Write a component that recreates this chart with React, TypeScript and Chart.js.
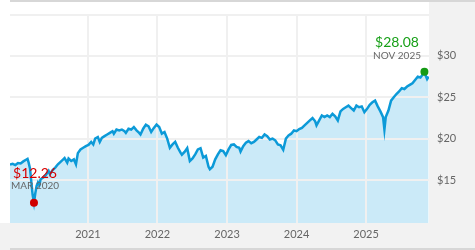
import React, { useEffect, useRef } from "react";
import { Chart, registerables } from "chart.js";

Chart.register(...registerables);

// ---- data ----
const dates: string[] = [
  "2019-11-18","2019-12-02","2019-12-16","2019-12-30","2020-01-13","2020-01-27","2020-02-10","2020-02-18",
  "2020-02-24","2020-03-02","2020-03-09","2020-03-16","2020-03-23","2020-03-30","2020-04-06","2020-04-13",
  "2020-04-20","2020-04-27","2020-05-11","2020-05-25","2020-06-08","2020-06-15","2020-06-29","2020-07-13",
  "2020-07-27","2020-08-10","2020-08-24","2020-08-31","2020-09-14","2020-09-21","2020-10-05","2020-10-19",
  "2020-10-30","2020-11-09","2020-11-23","2020-12-07","2020-12-21","2021-01-04","2021-01-18","2021-01-29",
  "2021-02-08","2021-02-22","2021-03-04","2021-03-15","2021-03-29","2021-04-12","2021-04-26","2021-05-10",
  "2021-05-17","2021-05-31","2021-06-14","2021-06-28","2021-07-12","2021-07-19","2021-08-02","2021-08-16",
  "2021-08-30","2021-09-13","2021-09-27","2021-10-04","2021-10-18","2021-11-01","2021-11-15","2021-11-29",
  "2021-12-13","2021-12-27","2022-01-10","2022-01-24","2022-02-07","2022-02-21","2022-03-07","2022-03-21",
  "2022-04-04","2022-04-18","2022-05-02","2022-05-09","2022-05-23","2022-06-06","2022-06-20","2022-07-04",
  "2022-07-18","2022-08-01","2022-08-15","2022-08-29","2022-09-12","2022-09-26","2022-10-03","2022-10-17",
  "2022-10-31","2022-11-14","2022-11-28","2022-12-12","2022-12-26","2023-01-09","2023-01-23","2023-02-06",
  "2023-02-20","2023-03-06","2023-03-13","2023-03-27","2023-04-10","2023-04-24","2023-05-08","2023-05-22",
  "2023-06-05","2023-06-19","2023-07-03","2023-07-17","2023-07-31","2023-08-14","2023-08-28","2023-09-11",
  "2023-09-25","2023-10-09","2023-10-23","2023-11-06","2023-11-20","2023-12-04","2023-12-18","2024-01-01",
  "2024-01-15","2024-01-29","2024-02-12","2024-02-26","2024-03-11","2024-03-25","2024-04-08","2024-04-15",
  "2024-04-29","2024-05-13","2024-05-27","2024-06-10","2024-06-24","2024-07-08","2024-07-22","2024-08-05",
  "2024-08-19","2024-09-02","2024-09-16","2024-09-30","2024-10-14","2024-10-28","2024-11-11","2024-11-25",
  "2024-12-09","2024-12-23","2025-01-06","2025-01-20","2025-02-03","2025-02-17","2025-03-03","2025-03-17",
  "2025-03-31","2025-04-07","2025-04-14","2025-04-28","2025-05-12","2025-05-26","2025-06-09","2025-06-23",
  "2025-07-07","2025-07-21","2025-08-04","2025-08-18","2025-09-01","2025-09-15","2025-09-29","2025-10-13",
  "2025-10-27","2025-11-03","2025-11-10","2025-11-17","2025-11-25",
];

const values: number[] = [
  16.87,16.95,16.8,17.05,17.0,17.25,17.45,17.55,
  17.1,16.4,14.8,13.2,12.26,13.4,14.3,14.7,
  14.4,15.1,15.3,15.6,16.1,15.7,16.2,16.5,
  16.9,17.2,17.5,17.65,17.1,17.6,17.3,17.5,
  16.9,18.25,18.7,18.9,19.1,19.25,19.6,19.3,
  20.0,20.2,19.6,20.1,20.3,20.5,20.7,20.9,
  20.6,21.1,21.0,21.1,20.9,20.7,21.2,21.1,
  21.4,21.0,20.7,20.5,21.2,21.7,21.5,20.8,
  21.3,21.7,21.4,20.6,20.8,20.0,18.9,19.3,
  19.6,18.9,18.3,18.06,18.4,18.85,17.3,17.6,
  18.1,18.7,18.85,17.7,17.9,16.6,16.3,16.6,
  17.5,18.1,18.6,18.5,18.0,18.7,19.25,19.3,
  19.0,18.9,18.45,19.1,19.5,19.7,19.45,19.6,
  19.9,20.2,20.1,20.5,20.3,19.9,20.0,19.8,
  19.3,19.2,18.65,20.0,20.4,20.6,21.0,20.9,
  21.15,21.3,21.6,21.9,22.2,22.5,22.1,21.6,
  22.2,22.8,22.6,22.8,22.6,23.0,22.7,22.2,
  23.3,23.6,23.8,24.0,23.7,23.4,24.0,23.8,
  23.9,23.2,23.6,24.1,24.4,24.6,23.9,23.3,
  22.6,21.1,22.6,23.4,24.6,25.0,25.4,25.7,
  26.1,26.0,26.3,26.5,26.7,27.1,27.5,27.4,
  27.8,28.08,27.6,27.2,27.5,
];

const yTickValues: number[] = [15, 20, 25, 30, 35];
const xTickValues: number[] = [2021, 2022, 2023, 2024, 2025];
const monthNames: string[] = ["JAN","FEB","MAR","APR","MAY","JUN","JUL","AUG","SEP","OCT","NOV","DEC"];

function toYear(s: string): number {
  const [y, m, d] = s.split("-").map(Number);
  const start = Date.UTC(y, 0, 1);
  const end = Date.UTC(y + 1, 0, 1);
  return y + (Date.UTC(y, m - 1, d) - start) / (end - start);
}

function dateLabel(s: string): string {
  const [y, m] = s.split("-").map(Number);
  return monthNames[m - 1] + " " + y;
}

const FONT = "Lato, 'Open Sans', sans-serif";

export default function App() {
  const ref = useRef<HTMLCanvasElement | null>(null);

  useEffect(() => {
    document.body.style.margin = "0";
    const canvas = ref.current;
    if (!canvas) return;

    const pts = dates.map((d, i) => ({ x: toYear(d), y: values[i] }));

    let minI = 0, maxI = 0;
    values.forEach((v, i) => {
      if (v < values[minI]) minI = i;
      if (v > values[maxI]) maxI = i;
    });

    const bgPlugin = {
      id: "bg",
      beforeDraw(chart: any) {
        const { ctx, width, height, chartArea } = chart;
        ctx.save();
        ctx.fillStyle = "#ffffff";
        ctx.fillRect(0, 0, width, height);
        ctx.fillStyle = "#f2f2f2";
        ctx.fillRect(chartArea.right, 2, width - chartArea.right, height - 2);
        ctx.fillRect(0, chartArea.bottom, width, height - chartArea.bottom);
        ctx.fillStyle = "#d7d7d7";
        ctx.fillRect(chartArea.left, 0, width - chartArea.left, 2);
        ctx.fillRect(chartArea.left, height - 2, width - chartArea.left, 2);
        ctx.restore();
      },
    };

    const gridPlugin = {
      id: "gridOver",
      afterDatasetDraw(chart: any, args: any) {
        if (args.index !== 1) return;
        const { ctx, chartArea, scales } = chart;
        ctx.save();
        ctx.strokeStyle = "#f0f0f0";
        ctx.lineWidth = 2;
        ctx.beginPath();
        xTickValues.forEach((v) => {
          const x = Math.round(scales.x.getPixelForValue(v));
          ctx.moveTo(x, chartArea.top);
          ctx.lineTo(x, chartArea.bottom);
        });
        yTickValues.forEach((v) => {
          const y = Math.round(scales.y.getPixelForValue(v));
          ctx.moveTo(chartArea.left, y);
          ctx.lineTo(chartArea.right, y);
        });
        ctx.stroke();
        ctx.restore();
      },
    };

    const markPlugin = {
      id: "marks",
      afterDatasetsDraw(chart: any) {
        const { ctx, chartArea, scales } = chart;
        const draw = (i: number, color: string, dotColor: string) => {
          const x = scales.x.getPixelForValue(pts[i].x);
          const y = scales.y.getPixelForValue(pts[i].y);
          ctx.save();
          ctx.fillStyle = dotColor;
          ctx.beginPath();
          ctx.arc(x, y, 4, 0, Math.PI * 2);
          ctx.fill();
          const valText = "$" + values[i].toFixed(2);
          const dText = dateLabel(dates[i]);
          ctx.font = "14px " + FONT;
          const w1 = ctx.measureText(valText).width;
          ctx.font = "10px " + FONT;
          const w2 = ctx.measureText(dText).width;
          const w = Math.max(w1, w2);
          let cx = x;
          if (cx + w / 2 > chartArea.right - 8) cx = chartArea.right - 8 - w / 2;
          if (cx - w / 2 < chartArea.left + 1) cx = chartArea.left + 1 + w / 2;
          ctx.textAlign = "center";
          ctx.textBaseline = "middle";
          ctx.font = "14px " + FONT;
          ctx.fillStyle = color;
          ctx.fillText(valText, cx, y - 29);
          ctx.font = "10px " + FONT;
          ctx.fillStyle = "#666666";
          ctx.fillText(dText, cx, y - 16.5);
          ctx.restore();
        };
        draw(minI, "#d60000", "#d00000");
        draw(maxI, "#18a018", "#149a14");
      },
    };

    const chart = new Chart(canvas, {
      type: "line",
      data: {
        datasets: [
          {
            data: pts,
            borderColor: "#0c9ad8",
            borderWidth: 2.5,
            pointRadius: 0,
            fill: false,
            tension: 0,
            order: 1,
          },
          {
            data: pts,
            borderWidth: 0,
            borderColor: "rgba(0,0,0,0)",
            backgroundColor: "#cbeaf8",
            pointRadius: 0,
            fill: "start",
            tension: 0,
            order: 2,
          },
        ],
      },
      options: {
        animation: false,
        responsive: false,
        maintainAspectRatio: false,
        layout: { padding: { left: 10, top: 10, right: 0, bottom: 0 } },
        plugins: { legend: { display: false }, tooltip: { enabled: false } },
        scales: {
          x: {
            type: "linear",
            min: toYear(dates[0]),
            max: toYear("2025-11-27"),
            grid: { display: false, drawTicks: false },
            border: { display: false },
            afterBuildTicks: (scale: any) => {
              scale.ticks = xTickValues.map((v) => ({ value: v }));
            },
            afterFit: (scale: any) => {
              scale.height = 27;
            },
            ticks: {
              autoSkip: false,
              maxRotation: 0,
              padding: 5,
              color: "#666666",
              font: { family: FONT, size: 11 },
              callback: (v: any) => String(v),
            },
          },
          y: {
            type: "linear",
            position: "right",
            min: 9.8,
            max: 35,
            grid: { display: false, drawTicks: false },
            border: { display: false },
            afterBuildTicks: (scale: any) => {
              scale.ticks = yTickValues.map((v) => ({ value: v }));
            },
            afterFit: (scale: any) => {
              scale.width = 46;
            },
            ticks: {
              padding: 8,
              color: "#666666",
              font: { family: FONT, size: 11 },
              callback: (v: any) => (v === 35 ? "" : "$" + v),
            },
          },
        },
      },
      plugins: [bgPlugin, gridPlugin, markPlugin],
    });

    return () => chart.destroy();
  }, []);

  return (
    <div style={{ width: 475, height: 250 }}>
      <canvas ref={ref} width={475} height={250} style={{ display: "block" }} />
    </div>
  );
}
